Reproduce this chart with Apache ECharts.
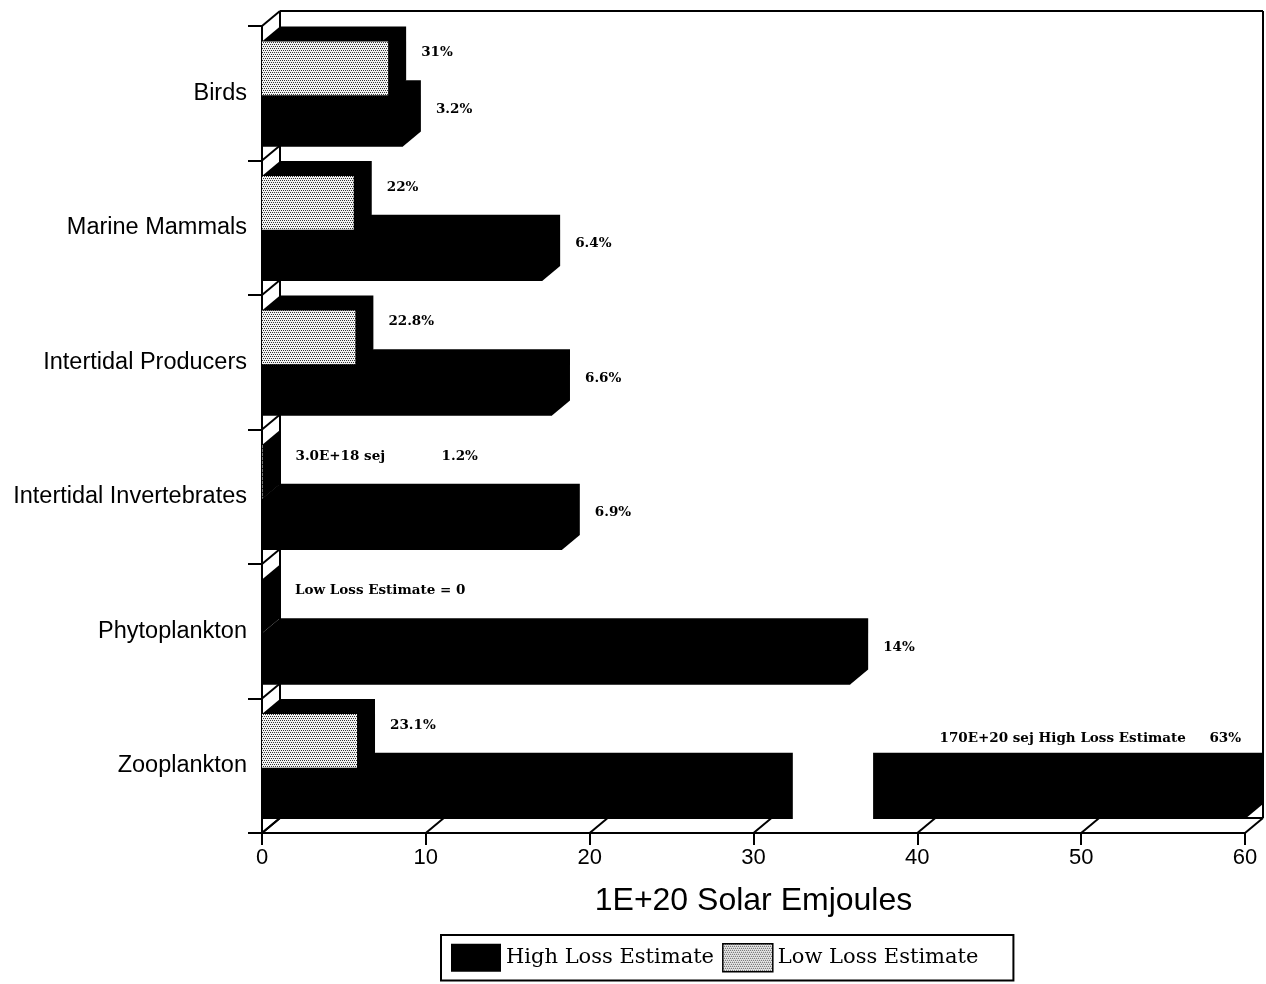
<!DOCTYPE html>
<html>
<head>
<meta charset="utf-8">
<title>Emergy loss estimates</title>
<script src="https://cdn.jsdelivr.net/npm/echarts@6/dist/echarts.min.js"></script>
<style>
    html, body { margin: 0; padding: 0; background: #fff; }
    #chart { width: 1266px; height: 984px; }
</style>
</head>
<body>
<div id="chart"></div>
<script>
var categories = ['Birds', 'Marine Mammals', 'Intertidal Producers', 'Intertidal Invertebrates', 'Phytoplankton', 'Zooplankton'];
var highLoss = [8.6, 17.1, 17.7, 18.3, 35.9, 170];
var lowLoss = [7.7, 5.6, 5.7, 0.03, 0, 5.8];
var highLabels = ['3.2%', '6.4%', '6.6%', '6.9%', '14%', '170E+20 sej High Loss Estimate     63%'];
var lowLabels = ['31%', '22%', '22.8%', '3.0E+18 sej            1.2%', 'Low Loss Estimate = 0', '23.1%'];
var xTicks = [0, 10, 20, 30, 40, 50, 60];
var breakFrom = 32.4, breakTo = 37.3; // gap cut into the off-scale bar

var AXIS_MAX = 60;
var DX = 18, DY = 15; // 3d depth offset

// stippled fill for the low estimate
var dotCanvas = document.createElement('canvas');
dotCanvas.width = 4; dotCanvas.height = 4;
var dctx = dotCanvas.getContext('2d');
dctx.fillStyle = '#f2f2f2';
dctx.fillRect(0, 0, 4, 4);
dctx.fillStyle = '#333';
[[0, 0], [2, 0], [1, 2], [3, 2]].forEach(function (p) { dctx.fillRect(p[0], p[1], 1, 1); });
var dots = { image: dotCanvas, repeat: 'repeat' };

var labelFont = 'bold 13.5px "DejaVu Serif"';

function makeBar(kind) {
    return function (params, api) {
        var i = api.value(1);
        var v = api.value(0);
        var c = api.coord([0, i]);
        var band = api.size([0, 1])[1];
        var x0 = c[0];
        var x1 = api.coord([Math.min(v, AXIS_MAX), i])[0];
        var top, bot;
        if (kind === 'low') {
            top = c[1] - band * 0.385; bot = c[1] + band * 0.015;
        } else {
            top = c[1] + band * 0.015; bot = c[1] + band * 0.395;
        }
        var children = [
            { type: 'polygon', shape: { points: [[x0, top], [x0 + DX, top - DY], [x1 + DX, top - DY], [x1 + DX, bot - DY], [x1, bot], [x0, bot]] }, style: { fill: '#000' } },
            { type: 'rect', shape: { x: x0, y: top, width: x1 - x0, height: bot - top }, style: { fill: kind === 'low' ? dots : '#000' } }
        ];
        var text = kind === 'low' ? lowLabels[i] : highLabels[i];
        if (v > AXIS_MAX) {
            var bx0 = api.coord([breakFrom, i])[0], bx1 = api.coord([breakTo, i])[0];
            children.push({ type: 'rect', shape: { x: bx0, y: top - DY - 1, width: bx1 - bx0, height: bot - top + DY + 2 }, style: { fill: '#fff' } });
            children.push({ type: 'text', style: { text: text, x: x1 - 4, y: top - DY - 14, font: labelFont, fill: '#000', align: 'right', verticalAlign: 'middle' } });
        } else {
            var ly = kind === 'low' ? c[1] - band * 0.3 : c[1] + band * 0.12;
            children.push({ type: 'text', style: { text: text, x: x1 + DX + 15, y: ly, font: labelFont, fill: '#000', align: 'left', verticalAlign: 'middle' } });
        }
        return { type: 'group', children: children };
    };
}

function renderFrame(params, api) {
    var c0 = api.coord([0, 0]);
    var band = api.size([0, 1])[1];
    var xL = c0[0], xR = api.coord([AXIS_MAX, 0])[0];
    var yT = c0[1] - band / 2, yB = yT + band * categories.length;
    var lines = [
        [xL + DX, yT - DY, xR + DX, yT - DY],
        [xL + DX, yT - DY, xL + DX, yB - DY],
        [xR + DX, yT - DY, xR + DX, yB - DY],
        [xL + DX, yB - DY, xR + DX, yB - DY]
    ];
    xTicks.forEach(function (t) {
        var x = api.coord([t, 0])[0];
        lines.push([x, yB, x + DX, yB - DY]);
    });
    for (var k = 0; k <= categories.length; k++) {
        var y = yT + k * band;
        lines.push([xL, y, xL + DX, y - DY]);
    }
    return {
        type: 'group',
        children: lines.map(function (l) {
            return { type: 'line', shape: { x1: l[0], y1: l[1], x2: l[2], y2: l[3] }, style: { stroke: '#000', lineWidth: 2 } };
        })
    };
}

var chart = echarts.init(document.getElementById('chart'));
chart.setOption({
    animation: false,
    backgroundColor: '#fff',
    grid: { left: 262, right: 21, top: 26, bottom: 151 },
    legend: {
        data: [
            { name: 'High Loss Estimate', itemStyle: { color: '#000' } },
            { name: 'Low Loss Estimate', itemStyle: { color: dots, borderColor: '#000', borderWidth: 1.5 } }
        ],
        left: 441,
        top: 935,
        icon: 'rect',
        itemWidth: 50,
        itemHeight: 28,
        itemGap: 8,
        selectedMode: false,
        padding: [8, 35, 8, 10],
        borderColor: '#000',
        borderWidth: 2,
        textStyle: { fontFamily: 'DejaVu Serif', fontSize: 21, color: '#000' }
    },
    xAxis: {
        type: 'value',
        min: 0,
        max: AXIS_MAX,
        interval: 10,
        name: '1E+20 Solar Emjoules',
        nameLocation: 'middle',
        nameGap: 52,
        nameTextStyle: { fontFamily: 'Liberation Sans', fontSize: 32, color: '#000' },
        axisLine: { show: true, lineStyle: { color: '#000', width: 2 } },
        axisTick: { show: true, length: 12, lineStyle: { color: '#000', width: 2 } },
        axisLabel: { fontFamily: 'Liberation Sans', fontSize: 22, color: '#000', margin: 14 },
        splitLine: { show: false }
    },
    yAxis: {
        type: 'category',
        data: categories,
        inverse: true,
        axisLine: { show: true, lineStyle: { color: '#000', width: 2 } },
        axisTick: { show: true, length: 14, lineStyle: { color: '#000', width: 2 } },
        axisLabel: { fontFamily: 'Liberation Sans', fontSize: 23.5, color: '#000', margin: 15 },
        splitLine: { show: false }
    },
    series: [
        {
            name: 'frame',
            type: 'custom',
            silent: true,
            z: 1,
            renderItem: renderFrame,
            data: [[0, 0]]
        },
        {
            name: 'High Loss Estimate',
            type: 'custom',
            z: 2,
            itemStyle: { color: '#000' },
            renderItem: makeBar('high'),
            data: highLoss.map(function (v, i) { return [v, i]; })
        },
        {
            name: 'Low Loss Estimate',
            type: 'custom',
            z: 3,
            itemStyle: { color: dots },
            renderItem: makeBar('low'),
            data: lowLoss.map(function (v, i) { return [v, i]; })
        }
    ]
});
</script>
</body>
</html>
